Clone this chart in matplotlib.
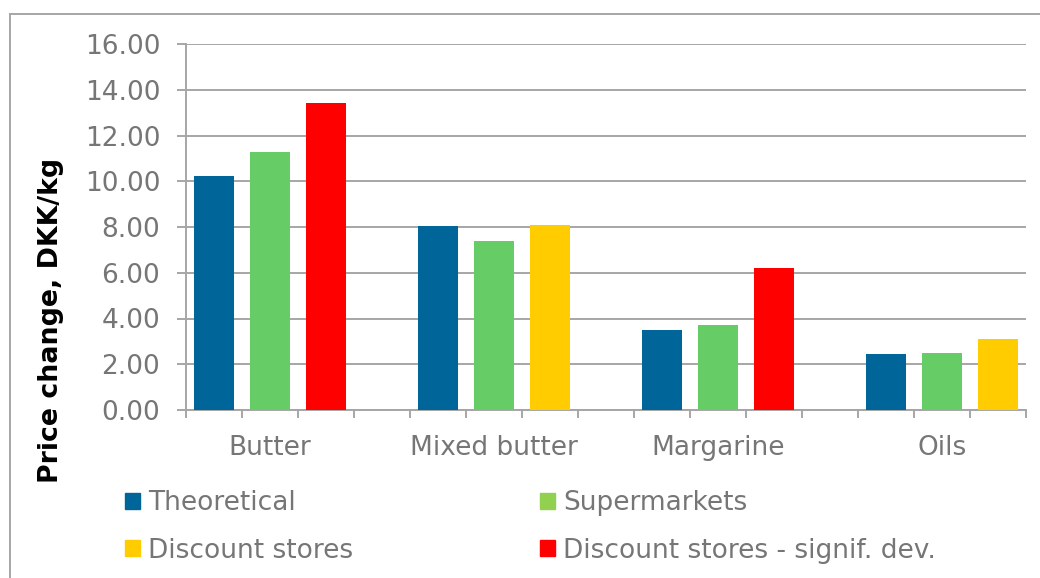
import numpy as np
import matplotlib
matplotlib.use('Agg')
import matplotlib.pyplot as plt
from matplotlib.lines import Line2D
from matplotlib.patches import Patch
from matplotlib.ticker import FixedLocator, FormatStrFormatter

categories = ['Butter', 'Mixed butter', 'Margarine', 'Oils']
theoretical = [10.25, 8.05, 3.50, 2.45]
supermarkets = [11.30, 7.40, 3.70, 2.50]
discount = [np.nan, 8.10, np.nan, 3.10]
discount_signif = [13.40, np.nan, 6.20, np.nan]

series = [('Theoretical', theoretical, '#006699'),
          ('Supermarkets', supermarkets, '#66CC66'),
          ('Discount stores', discount, '#FFCC00'),
          ('Discount stores - signif. dev.', discount_signif, '#FF0000')]
legend_colors = {'Supermarkets': '#92D050'}

GRID = '#A6A6A6'
TXT = '#767676'
FS = 19

fig = plt.figure(figsize=(10.4, 5.78), dpi=100)
ax = fig.add_axes([186/1040, 1 - 410/578, 840/1040, 366/578])

# each category takes 4 slots: three bars and an empty gap slot
base = np.arange(len(categories)) * 4
for k, (name, vals, col) in enumerate(series):
    slot = min(k, 2)
    ax.bar(base + slot, vals, width=0.73, color=col, zorder=3)

ax.set_xlim(-0.5, 4 * len(categories) - 1.5)
ax.set_ylim(0, 16)
ax.set_yticks(np.arange(0, 16.1, 2))
ax.yaxis.set_major_formatter(FormatStrFormatter('%.2f'))
ax.grid(axis='y', color=GRID, linewidth=1.4, zorder=0)

ax.set_xticks(base + 1)
ax.set_xticklabels(categories)
ax.xaxis.set_minor_locator(FixedLocator(np.arange(-0.5, 4 * len(categories) - 1, 1)))
ax.tick_params(axis='x', which='major', length=0, pad=18, labelsize=FS, labelcolor=TXT)
ax.tick_params(axis='x', which='minor', length=6, width=1.4, color=GRID)
ax.tick_params(axis='y', length=6.5, width=1.4, color=GRID, pad=12,
               labelsize=FS, labelcolor=TXT)

for s in ['top', 'right']:
    ax.spines[s].set_visible(False)
for s in ['left', 'bottom']:
    ax.spines[s].set_color(GRID)
    ax.spines[s].set_linewidth(1.4)

fig.text(51/1040, 1 - 320/578, 'Price change, DKK/kg', rotation=90,
         ha='center', va='center', fontsize=19.3, fontweight='bold', color='black')

handles = [Patch(color=legend_colors.get(n, c)) for n, v, c in series]
labels = [n for n, v, c in series]
order = [0, 2, 1, 3]
fig.legend([handles[i] for i in order], [labels[i] for i in order],
           ncol=2, loc='upper left', bbox_to_anchor=(125/1040, 1 - 490/578),
           frameon=False, fontsize=FS, labelcolor=TXT, borderpad=0,
           borderaxespad=0, handlelength=0.57, handleheight=0.57,
           handletextpad=0.3, labelspacing=0.82, columnspacing=7.1)

# outer chart border (left and top only visible)
fig.add_artist(Line2D([10/1040, 10/1040], [0, 1 - 14/578], color=GRID, linewidth=1.4))
fig.add_artist(Line2D([10/1040, 1], [1 - 14/578, 1 - 14/578], color=GRID, linewidth=1.4))

fig.savefig('out.png', dpi=100)
